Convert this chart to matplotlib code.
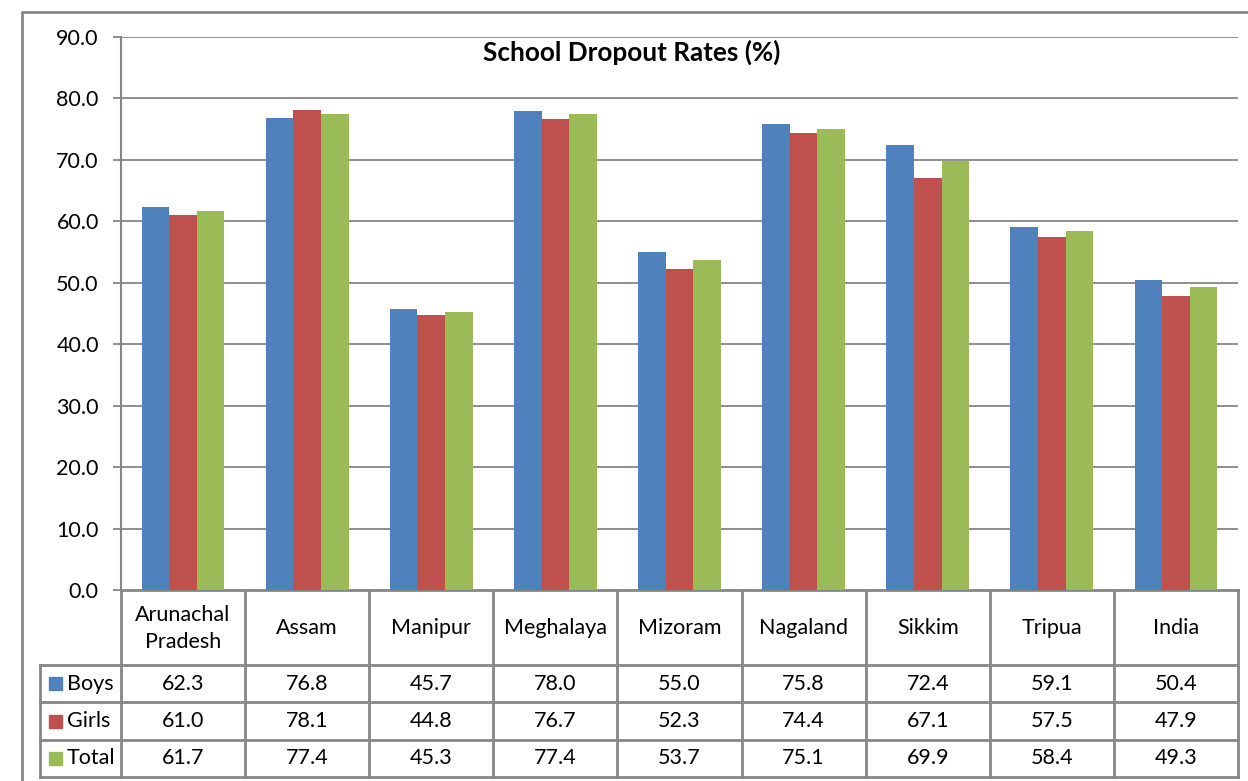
import matplotlib
matplotlib.use("Agg")
import matplotlib.pyplot as plt
import matplotlib.transforms as mtransforms
from matplotlib.patches import Rectangle
import numpy as np

plt.rcParams['font.family'] = ['Lato', 'DejaVu Sans']

# data
states = ['Arunachal\nPradesh', 'Assam', 'Manipur', 'Meghalaya', 'Mizoram',
          'Nagaland', 'Sikkim', 'Tripua', 'India']
boys = [62.3, 76.8, 45.7, 78.0, 55.0, 75.8, 72.4, 59.1, 50.4]
girls = [61.0, 78.1, 44.8, 76.7, 52.3, 74.4, 67.1, 57.5, 47.9]
total = [61.7, 77.4, 45.3, 77.4, 53.7, 75.1, 69.9, 58.4, 49.3]
series_names = ['Boys', 'Girls', 'Total']
series_colors = ['#4F81BD', '#C0504D', '#9BBB59']
yticks = np.arange(0, 91, 10)

W, H = 1248, 781
fig = plt.figure(figsize=(W / 100, H / 100), dpi=100)
grid_col = '#868686'
fs = 15.5

# overlay in pixel coordinates for table / border
ov = fig.add_axes([0, 0, 1, 1])
ov.set_xlim(0, W)
ov.set_ylim(H, 0)
ov.axis('off')

ax_left, ax_right, ax_top, ax_bot = 121, 1238, 37, 590
ax = fig.add_axes([ax_left / W, 1 - ax_bot / H, (ax_right - ax_left) / W, (ax_bot - ax_top) / H])

x = np.arange(len(states))
bw = 1 / 4.5
for i, (vals, col) in enumerate(zip([boys, girls, total], series_colors)):
    ax.bar(x + (i - 1) * bw, vals, bw, color=col, zorder=3)

ax.set_xlim(-0.5, len(states) - 0.5)
ax.set_ylim(0, 90)
ax.set_yticks(yticks)
ax.set_yticklabels([f'{v:.1f}' for v in yticks], fontsize=fs)
ax.set_xticks([])
ax.grid(axis='y', color=grid_col, linewidth=1.3, zorder=0)
for s in ['top', 'right', 'bottom']:
    ax.spines[s].set_visible(False)
ax.spines['left'].set_color(grid_col)
ax.spines['left'].set_linewidth(1.5)
ax.tick_params(axis='y', length=6, width=1.3, color=grid_col, pad=10)
ax.text(0.457, 0.995, 'School Dropout Rates (%)', transform=ax.transAxes, fontsize=18.8,
        fontweight='bold', ha='center', va='top', zorder=5)

# table: x in data coords of ax, y in pixels
tr = mtransforms.blended_transform_factory(ax.transData, ov.transData)
row_y = [590, 665, 702, 740, 777]
lw = 2.0
xl, xr = -0.5, len(states) - 0.5
for y in row_y:
    ov.plot([xl, xr], [y, y], transform=tr, color=grid_col, lw=lw, solid_capstyle='projecting')
for k in range(len(states) + 1):
    ov.plot([k - 0.5, k - 0.5], [590, 777], transform=tr, color=grid_col, lw=lw)
# legend column
lab_left = 40
for y in row_y[1:]:
    ov.plot([lab_left, ax_left], [y, y], color=grid_col, lw=lw, solid_capstyle='projecting')
ov.plot([lab_left, lab_left], [665, 777], color=grid_col, lw=lw)

for k, s in enumerate(states):
    ov.text(k, (590 + 665) / 2 + 1, s, transform=tr, ha='center', va='center',
            fontsize=fs, linespacing=1.45)

for r, (name, vals, col) in enumerate(zip(series_names, [boys, girls, total], series_colors)):
    yc = (row_y[r + 1] + row_y[r + 2]) / 2
    ov.add_patch(Rectangle((49, yc - 6.5), 13, 13, color=col))
    ov.text(67, yc, name, ha='left', va='center', fontsize=fs)
    for k, v in enumerate(vals):
        ov.text(k, yc, f'{v:.1f}', transform=tr, ha='center', va='center', fontsize=fs)

# outer chart border
ov.plot([22, 22, W], [H, 12, 12], color=grid_col, lw=2)

fig.savefig('out.png', dpi=100)
